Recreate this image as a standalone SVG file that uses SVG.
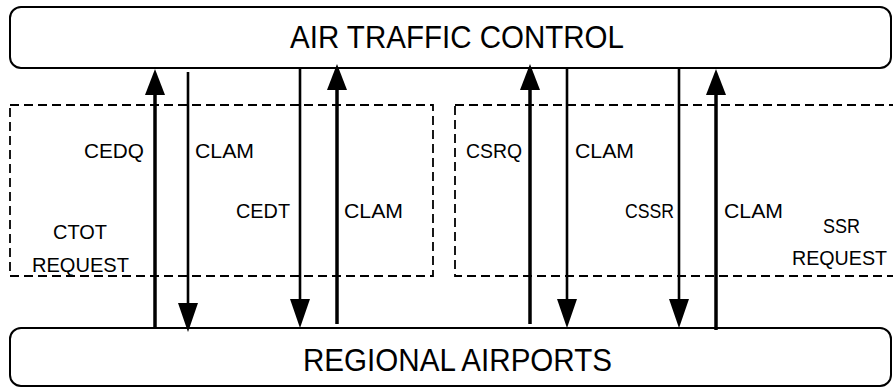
<svg xmlns="http://www.w3.org/2000/svg" width="893" height="387" viewBox="0 0 893 387">
<style>
.box{fill:#fff;stroke:#000;stroke-width:2}
.dash{fill:none;stroke:#000;stroke-width:1.8;stroke-dasharray:9,5}
.big{font-family:"Liberation Sans",Arial,sans-serif;font-size:31px;fill:#000}
.lbl{font-family:"Liberation Sans",Arial,sans-serif;font-size:21px;fill:#000}
.up{stroke:#000;stroke-width:3.5;fill:none;marker-end:url(#hu)}
.dn{stroke:#000;stroke-width:2.6;fill:none;marker-end:url(#hd)}
</style>
<defs>
<marker id="hu" markerUnits="userSpaceOnUse" viewBox="0 0 26 20" markerWidth="26" markerHeight="20" refX="16" refY="10" orient="auto"><path d="M0,0 L26,10 L0,20 z" fill="#000"/></marker>
<marker id="hd" markerUnits="userSpaceOnUse" viewBox="0 0 29 20" markerWidth="29" markerHeight="20" refX="19" refY="10" orient="auto"><path d="M0,0 L29,10 L0,20 z" fill="#000"/></marker>
</defs>
<rect width="893" height="387" fill="#fff"/>
<g id="ctot-request">
<rect class="dash" x="10" y="105" width="423" height="171"/>
<text class="lbl" x="53" y="239" textLength="54" lengthAdjust="spacingAndGlyphs">CTOT</text>
<text class="lbl" x="32" y="272" textLength="97" lengthAdjust="spacingAndGlyphs">REQUEST</text>
</g>
<g id="ssr-request">
<rect class="dash" x="455" y="105" width="450" height="171"/>
<text class="lbl" x="823" y="233" textLength="37" lengthAdjust="spacingAndGlyphs">SSR</text>
<text class="lbl" x="792" y="265" textLength="95" lengthAdjust="spacingAndGlyphs">REQUEST</text>
</g>
<g id="atc">
<rect class="box" x="10" y="7" width="881" height="61" rx="11"/>
<text class="big" x="290" y="48" textLength="334" lengthAdjust="spacingAndGlyphs">AIR TRAFFIC CONTROL</text>
</g>
<g id="airports">
<rect class="box" x="10" y="328" width="881" height="58" rx="11"/>
<text class="big" x="303" y="371" textLength="309" lengthAdjust="spacingAndGlyphs">REGIONAL AIRPORTS</text>
</g>
<g id="connectors">
<line class="up" x1="155" y1="329" x2="155" y2="79"/>
<line class="dn" x1="188" y1="72" x2="188" y2="322"/>
<line class="dn" x1="300" y1="67" x2="300" y2="318"/>
<line class="up" x1="337" y1="324" x2="337" y2="74"/>
<line class="up" x1="530" y1="324" x2="530" y2="74"/>
<line class="dn" x1="567" y1="67" x2="567" y2="318"/>
<line class="dn" x1="679" y1="67" x2="679" y2="318"/>
<line class="up" x1="716" y1="330" x2="716" y2="79"/>
<text class="lbl" x="84" y="158" textLength="60" lengthAdjust="spacingAndGlyphs">CEDQ</text>
<text class="lbl" x="195" y="158" textLength="59" lengthAdjust="spacingAndGlyphs">CLAM</text>
<text class="lbl" x="236" y="218" textLength="54" lengthAdjust="spacingAndGlyphs">CEDT</text>
<text class="lbl" x="344" y="218" textLength="59" lengthAdjust="spacingAndGlyphs">CLAM</text>
<text class="lbl" x="466" y="158" textLength="56" lengthAdjust="spacingAndGlyphs">CSRQ</text>
<text class="lbl" x="575" y="158" textLength="59" lengthAdjust="spacingAndGlyphs">CLAM</text>
<text class="lbl" x="625" y="218" textLength="49" lengthAdjust="spacingAndGlyphs">CSSR</text>
<text class="lbl" x="724" y="218" textLength="59" lengthAdjust="spacingAndGlyphs">CLAM</text>
</g>
</svg>
